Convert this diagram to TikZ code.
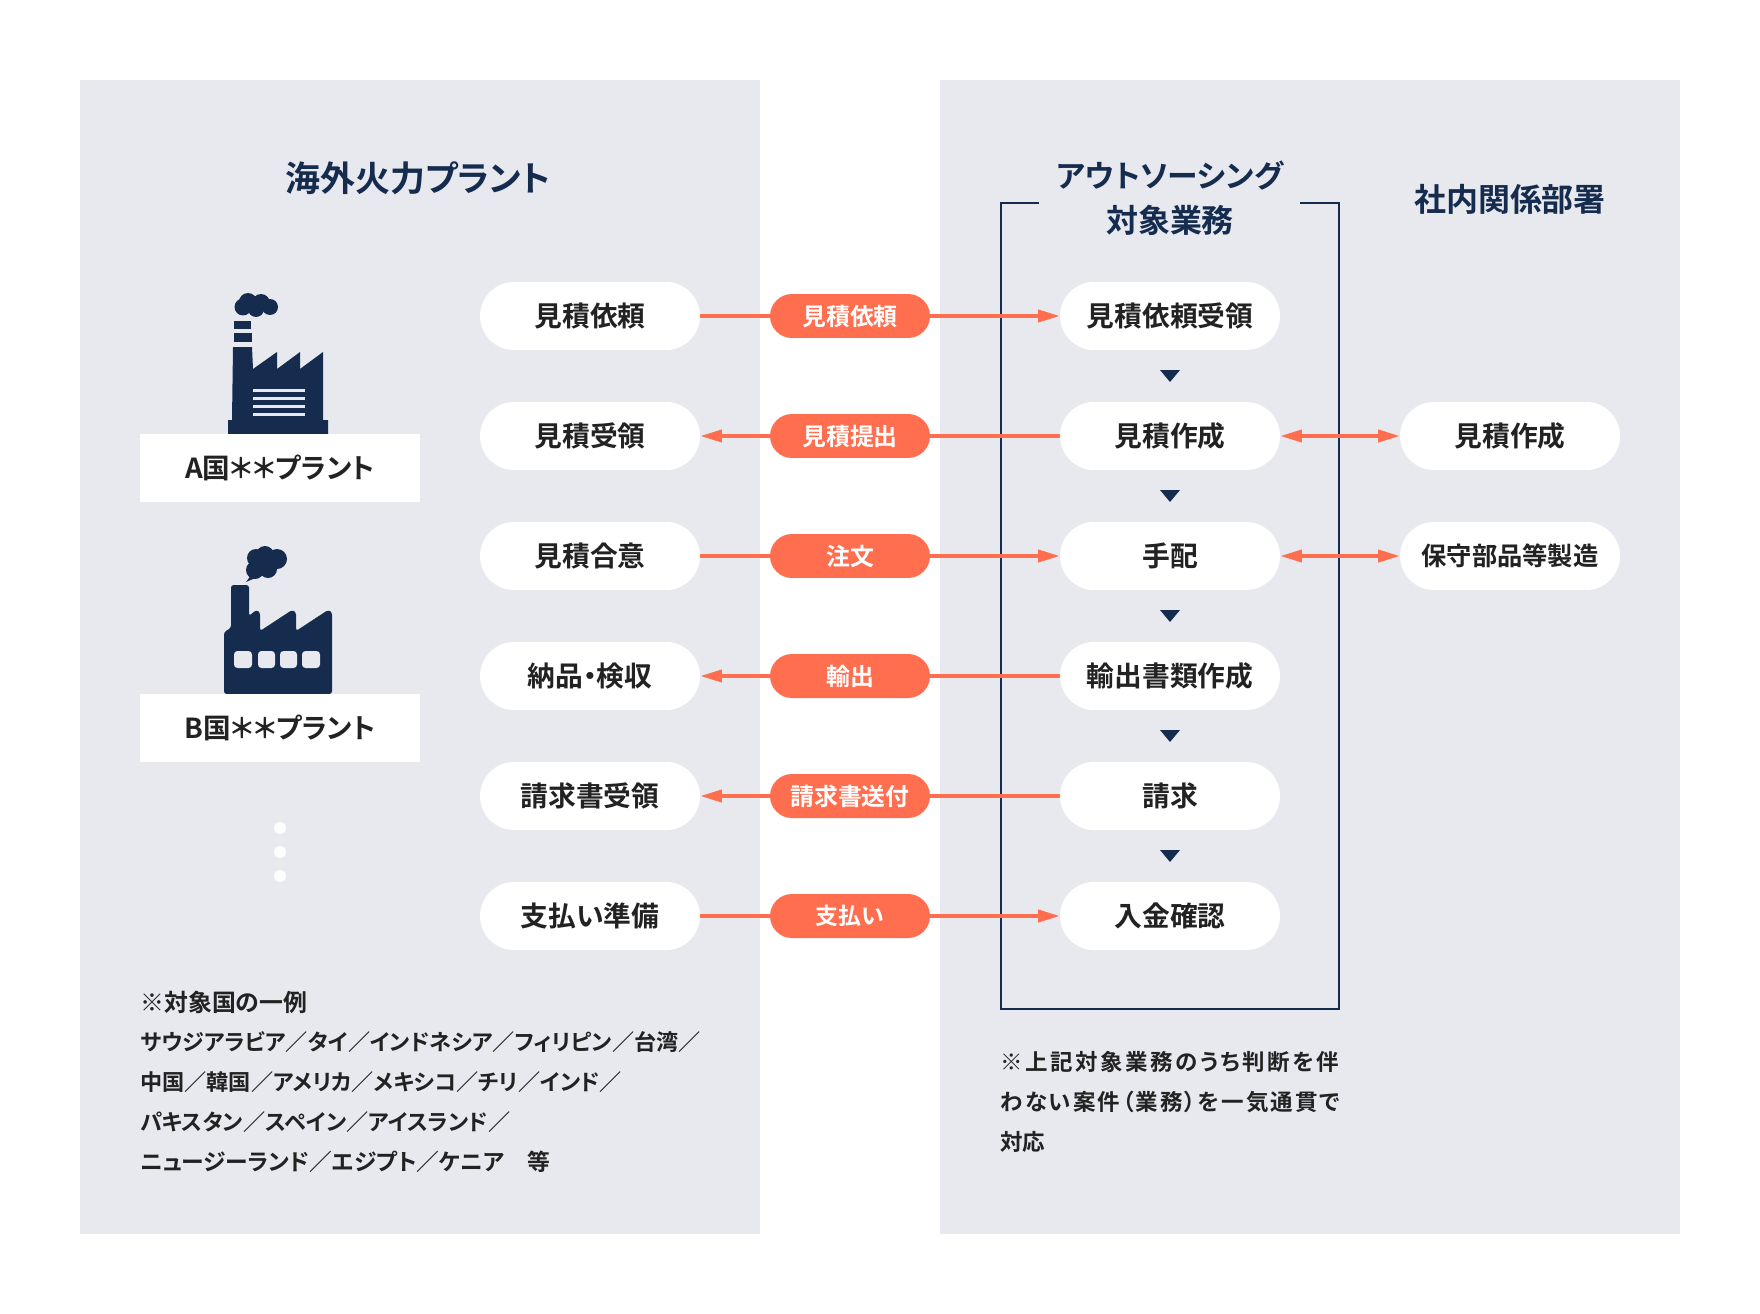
\documentclass[tikz,border=0pt]{standalone}
\usepackage{fontspec}
\setmainfont{Noto Sans CJK JP}[BoldFont=Noto Sans CJK JP Bold,RawFeature=+palt]
\usetikzlibrary{arrows.meta}
\definecolor{panelgray}{HTML}{E8E9EF}
\definecolor{navyblue}{HTML}{152C4F}
\definecolor{coralred}{HTML}{FF6E4F}
\definecolor{inkblack}{HTML}{222222}
\tikzset{
  panel/.style={fill=panelgray, draw=none},
  whitepill/.style={fill=white, rounded corners=0.68cm, minimum width=4.4cm, minimum height=1.36cm, inner sep=0pt, outer sep=0pt, text=inkblack, font=\bfseries\fontsize{15.8}{18}\selectfont},
  redpill/.style={fill=coralred, rounded corners=0.44cm, minimum width=3.2cm, minimum height=0.88cm, inner sep=0pt, outer sep=0pt, text=white, font=\bfseries\fontsize{13.6}{16}\selectfont},
  plantlabel/.style={fill=white, minimum width=5.6cm, minimum height=1.36cm, inner sep=0pt, outer sep=0pt, text=inkblack, font=\bfseries\fontsize{15.7}{18}\selectfont},
  heading/.style={inner sep=0pt, text=navyblue, font=\bfseries\fontsize{18.2}{22}\selectfont},
  footnote/.style={anchor=west, inner sep=0pt, text=inkblack, font=\bfseries\fontsize{12.6}{15}\selectfont},
  flow/.style={draw=coralred, line width=2.3pt, {Triangle[length=12.5pt,width=6.8pt]}-{Triangle[length=12.5pt,width=6.8pt]}},
  flowright/.style={draw=coralred, line width=2.3pt, -{Triangle[length=12.5pt,width=6.8pt]}},
  flowleft/.style={draw=coralred, line width=2.3pt, {Triangle[length=12.5pt,width=6.8pt]}-},
  stepmark/.style={fill=navyblue}
}
\begin{document}
\begin{tikzpicture}[x=0.02cm, y=-0.02cm]
\useasboundingbox (0,0) rectangle (1760,1314);

% Panels
\fill[white] (0,0) rectangle (1760,1314);
\fill[panel] (80,80) rectangle (760,1234);
\fill[panel] (940,80) rectangle (1680,1234);

% Headings
\node[heading, font=\bfseries\fontsize{19.9}{24}\selectfont] (titleplant) at (418,178) {海外火力プラント};
\node[heading, font=\bfseries\fontsize{17.5}{22}\selectfont] (titleout) at (1170,176) {アウトソーシング};
\node[heading] (titlework) at (1170,220) {対象業務};
\node[heading] (titledept) at (1510,199) {社内関係部署};

% Bracket round the outsourced work
\coordinate (brTL) at (1039,203);
\coordinate (brTR) at (1300,203);
\draw[navyblue, line width=1.15pt] (brTL) -- (1001,203) -- (1001,1009) -- (1339,1009) -- (1339,203) -- (brTR);

% Factory A
\fill[navyblue] (234,321) rectangle (251,329);
\fill[navyblue] (233.5,333) rectangle (252,342);
\fill[navyblue] (233,347) -- (252,347) -- (253,369) -- (277,352) -- (277,369) -- (300,352) -- (300,369) -- (323,352) -- (323,420) -- (328,420) -- (328,434) -- (228,434) -- (228,420) -- (232,420) -- cycle;
\fill[panelgray] (253,389) rectangle (305,392);
\fill[panelgray] (253,397) rectangle (305,400);
\fill[panelgray] (253,405) rectangle (305,408);
\fill[panelgray] (253,413) rectangle (305,416);
\fill[navyblue] (243,307) circle (8.5);
\fill[navyblue] (248,302) circle (9);
\fill[navyblue] (261,303) circle (9);
\fill[navyblue] (256,309) circle (8);
\fill[navyblue] (270,307) circle (8);

% Factory B
\fill[navyblue, rounded corners=1.5pt] (231,628) -- (231,585) -- (249,585) -- (249,616) -- (256,610) -- (260,612) -- (260,631) -- (292,610) -- (296,612) -- (296,631) -- (328,610) -- (332,612) -- (332,694) -- (224,694) -- (224,632) -- cycle;
\fill[panelgray, rounded corners=2pt] (234,651) rectangle (252,668);
\fill[panelgray, rounded corners=2pt] (258,651) rectangle (275,668);
\fill[panelgray, rounded corners=2pt] (280,651) rectangle (297,668);
\fill[panelgray, rounded corners=2pt] (302,651) rectangle (320,668);
\fill[navyblue] (256,558) circle (9);
\fill[navyblue] (265,555) circle (9);
\fill[navyblue] (277,559) circle (10);
\fill[navyblue] (255,570) circle (9);
\fill[navyblue] (268,569) circle (9);
\fill[navyblue] (246,582) -- (252,574) -- (260,576) -- cycle;

% Plant labels
\node[plantlabel] (plantA) at (280,468) {A国＊＊プラント};
\node[plantlabel] (plantB) at (280,728) {B国＊＊プラント};
\fill[white] (280,828) circle (6);
\fill[white] (280,852) circle (6);
\fill[white] (280,876) circle (6);

% Plant side
\node[whitepill] (reqL) at (590,316) {見積依頼};
\node[whitepill] (recvL) at (590,436) {見積受領};
\node[whitepill] (agreeL) at (590,556) {見積合意};
\node[whitepill] (checkL) at (590,676) {納品・検収};
\node[whitepill] (billL) at (590,796) {請求書受領};
\node[whitepill] (payL) at (590,916) {支払い準備};

% Outsourced work
\node[whitepill] (reqM) at (1170,316) {見積依頼受領};
\node[whitepill] (makeM) at (1170,436) {見積作成};
\node[whitepill] (orderM) at (1170,556) {手配};
\node[whitepill] (docsM) at (1170,676) {輸出書類作成};
\node[whitepill] (billM) at (1170,796) {請求};
\node[whitepill] (payM) at (1170,916) {入金確認};

% Departments
\node[whitepill] (makeR) at (1510,436) {見積作成};
\node[whitepill, font=\bfseries\fontsize{14.4}{18}\selectfont] (partsR) at (1510,556) {保守部品等製造};

% Step marks
\fill[stepmark] (1160,370) -- (1180,370) -- (1170,382) -- cycle;
\fill[stepmark] (1160,490) -- (1180,490) -- (1170,502) -- cycle;
\fill[stepmark] (1160,610) -- (1180,610) -- (1170,622) -- cycle;
\fill[stepmark] (1160,730) -- (1180,730) -- (1170,742) -- cycle;
\fill[stepmark] (1160,850) -- (1180,850) -- (1170,862) -- cycle;

% Flows
\draw[flowright] (reqL) -- (reqM);
\draw[flowleft] (recvL) -- (makeM);
\draw[flowright] (agreeL) -- (orderM);
\draw[flowleft] (checkL) -- (docsM);
\draw[flowleft] (billL) -- (billM);
\draw[flowright] (payL) -- (payM);
\draw[flow] (makeM) -- (makeR);
\draw[flow] (orderM) -- (partsR);

% Flow labels
\node[redpill] (reqF) at (850,316) {見積依頼};
\node[redpill] (quoteF) at (850,436) {見積提出};
\node[redpill] (orderF) at (850,556) {注文};
\node[redpill] (exportF) at (850,676) {輸出};
\node[redpill] (billF) at (850,796) {請求書送付};
\node[redpill, font=\bfseries\fontsize{13}{16}\selectfont] (payF) at (850,916) {支払い};

% Notes
\node[footnote, font=\bfseries\fontsize{13.6}{15}\selectfont] (noteA) at (140,1002) {※対象国の一例};
\node[footnote] (noteB) at (140,1042) {サウジアラビア／タイ／インドネシア／フィリピン／台湾／};
\node[footnote] (noteC) at (140,1082) {中国／韓国／アメリカ／メキシコ／チリ／インド／};
\node[footnote] (noteD) at (140,1122) {パキスタン／スペイン／アイスランド／};
\node[footnote, font=\bfseries\fontsize{12.95}{15}\selectfont] (noteE) at (140,1162) {ニュージーランド／エジプト／ケニア　等};
\node[footnote, font=\bfseries\fontsize{12.8}{15}\selectfont\addfontfeature{LetterSpace=11}] (noteF) at (1000,1062) {※上記対象業務のうち判断を伴};
\node[footnote, font=\bfseries\fontsize{12.8}{15}\selectfont\addfontfeature{LetterSpace=9}] (noteG) at (1000,1102) {わない案件（業務）を一気通貫で};
\node[footnote, font=\bfseries\fontsize{12.8}{15}\selectfont] (noteH) at (1000,1142) {対応};
\end{tikzpicture}
\end{document}
